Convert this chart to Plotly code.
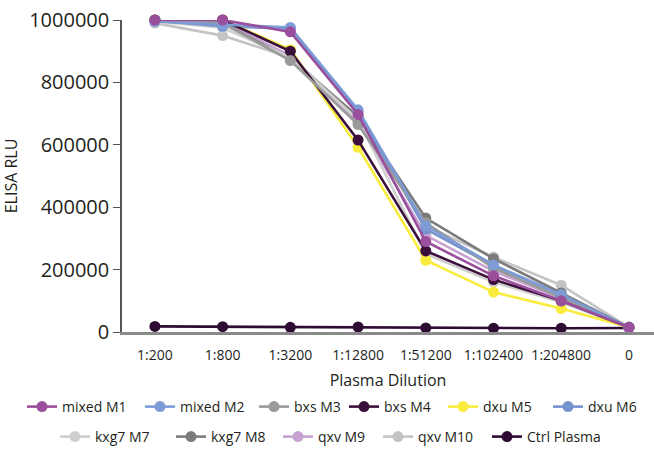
import plotly.graph_objects as go

categories = ["1:200", "1:800", "1:3200", "1:12800", "1:51200", "1:102400", "1:204800", "0"]

series_names = ["mixed M1", "mixed M2", "bxs M3", "bxs M4", "dxu M5", "dxu M6",
                "kxg7 M7", "kxg7 M8", "qxv M9", "qxv M10", "Ctrl Plasma"]

mixed_m1 = [1000000, 1000000, 962000, 697000, 290000, 180000, 100000, 15000]
mixed_m2 = [995000, 985000, 976000, 712000, 340000, 215000, 120000, 15000]
bxs_m3 = [998000, 990000, 870000, 665000, 350000, 205000, 110000, 15000]
bxs_m4 = [1000000, 1000000, 900000, 615000, 260000, 168000, 100000, 15000]
dxu_m5 = [1000000, 1000000, 905000, 592000, 230000, 128000, 75000, 15000]
dxu_m6 = [998000, 980000, 972000, 705000, 330000, 212000, 118000, 15000]
kxg7_m7 = [995000, 975000, 880000, 680000, 250000, 160000, 95000, 15000]
kxg7_m8 = [998000, 990000, 875000, 690000, 365000, 235000, 125000, 15000]
qxv_m9 = [1000000, 995000, 885000, 672000, 310000, 195000, 108000, 15000]
qxv_m10 = [990000, 950000, 880000, 690000, 340000, 240000, 150000, 15000]
ctrl_plasma = [18000, 17000, 15000, 16000, 13000, 12000, 12000, 13000]

y_tick_vals = [0, 200000, 400000, 600000, 800000, 1000000]
y_tick_text = ["0", "200000", "400000", "600000", "800000", "1000000"]

all_values = [mixed_m1, mixed_m2, bxs_m3, bxs_m4, dxu_m5, dxu_m6,
              kxg7_m7, kxg7_m8, qxv_m9, qxv_m10, ctrl_plasma]
colors = ["#9a4f9d", "#7d9bd4", "#9a9a9a", "#3b0f3c", "#f9ec3c", "#7592cc",
          "#cfcfcf", "#7b7b7b", "#c7a3d1", "#c4c4c4", "#2e0b33"]

# legend entry placement (pixels in the 654x453 canvas): symbol start x, row centre y
legend_x_px = [31, 149, 263, 353, 452, 557, 64, 180, 287, 387, 496]
legend_y_px = [407, 407, 407, 407, 407, 407, 437, 437, 437, 437, 437]

W, H = 654, 453
FONT = "Open Sans"
TXT = "#231f20"

fig = go.Figure()
legends = {}
# draw in reverse so that mixed M1 sits on top
for i in reversed(range(len(series_names))):
    lname = "legend" if i == 0 else f"legend{i + 1}"
    fig.add_trace(go.Scatter(
        x=categories, y=all_values[i], name=series_names[i],
        mode="lines+markers",
        line=dict(color=colors[i], width=2.6),
        marker=dict(color=colors[i], size=11),
        cliponaxis=False,
        legend=lname,
    ))
    legends[lname] = dict(
        orientation="h",
        xref="container", yref="container",
        x=(legend_x_px[i] - 9) / W, xanchor="left",
        y=1 - legend_y_px[i] / H, yanchor="middle",
        font=dict(size=14, family=FONT, color=TXT),
        bgcolor="rgba(0,0,0,0)", borderwidth=0,
    )

fig.update_layout(
    width=W, height=H,
    margin=dict(l=122, r=0, t=20, b=120.5, autoexpand=False),
    paper_bgcolor="white", plot_bgcolor="white",
    font=dict(family=FONT, color=TXT),
    showlegend=True,
    **legends,
)

fig.update_xaxes(
    type="category", range=[-0.486, 7.37],
    showline=True, linecolor="#8a8a8a", linewidth=2.5,
    showgrid=False, zeroline=False,
    ticks="outside", ticklen=8, tickcolor="rgba(0,0,0,0)",
    tickfont=dict(size=14, family=FONT, color=TXT),
    title=dict(text="Plasma Dilution", font=dict(size=16, family=FONT, color=TXT), standoff=18),
)
fig.update_yaxes(
    range=[0, 1000000],
    tickvals=y_tick_vals, ticktext=y_tick_text,
    showline=True, linecolor="#555555", linewidth=1.5,
    showgrid=False, zeroline=False,
    ticks="outside", ticklen=7, tickcolor="#555555", tickwidth=1.2,
    tickfont=dict(size=20, family=FONT, color=TXT),
    title=dict(text="ELISA RLU", font=dict(size=16, family=FONT, color=TXT), standoff=10),
)

fig.write_html("out.html", config={"displayModeBar": False},
               post_script="document.body.style.margin='0';")
